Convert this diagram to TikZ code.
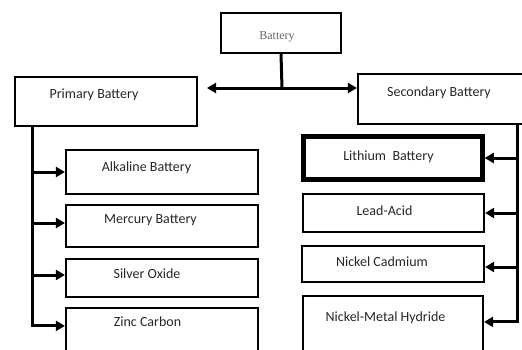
\documentclass[tikz,border=0pt]{standalone}
\usepackage{fontspec}
\setmainfont{Carlito}
\newfontfamily\batfont{Liberation Serif}
\usetikzlibrary{arrows.meta,calc}

\begin{document}
\begin{tikzpicture}[
    x=1pt, y=-1pt,
    box/.style={draw=black, line width=2.2pt, inner sep=0pt},
    lbl/.style={font=\fontsize{14}{16}\selectfont, text=black!85, inner sep=0pt},
    link/.style={line width=3pt, black},
    arr/.style={link, -{Triangle[length=9pt,width=10pt]}},
]
\useasboundingbox (0,0) rectangle (522,349);

% Top
\node[box, minimum width=120, minimum height=40] (bat) at (281,33) {};
\node[font=\batfont\fontsize{12}{14}\selectfont, text=black!60, inner sep=0pt] (bat-t) at (277,37) {Battery};

% Primary and secondary
\node[box, minimum width=182, minimum height=49] (prim) at (106,101.5) {};
\node[lbl] (prim-t) at (94,95) {Primary Battery};
\node[box, minimum width=182, minimum height=50] (sec) at (449,99) {};
\node[lbl] (sec-t) at (439,92.5) {Secondary Battery};

\coordinate (hub) at (282,88);
\coordinate (ltip) at (207,88);
\draw[link] (bat.south) -- (hub);
\draw[arr] (hub) -- (ltip);
\draw[arr] (hub) -- (sec.west |- hub);

% Primary types
\node[box, minimum width=192, minimum height=44] (alk) at (162,172) {};
\node[lbl] (alk-t) at (146.5,167.5) {Alkaline Battery};
\node[box, minimum width=192, minimum height=42] (mer) at (162,226) {};
\node[lbl] (mer-t) at (150.5,220) {Mercury Battery};
\node[box, minimum width=192, minimum height=38] (sil) at (162,278) {};
\node[lbl] (sil-t) at (147,274) {Silver Oxide};
\node[box, minimum width=192, minimum height=62] (zinc) at (162,339) {};
\node[lbl] (zinc-t) at (147.5,322) {Zinc Carbon};

\coordinate (mer-in) at ($(mer.west)+(0,-3)$);
\coordinate (sil-in) at ($(sil.west)+(0,-3)$);
\coordinate (zinc-in) at ($(zinc.north west)+(0,19)$);
\coordinate (lt) at (32,327);
\draw[link] (prim.south -| lt) -- (lt);
\draw[arr] (lt |- alk.west) -- (alk.west);
\draw[arr] (lt |- mer-in) -- (mer-in);
\draw[arr] (lt |- sil-in) -- (sil-in);
\draw[arr] (lt |- zinc-in) -- (zinc-in);

% Secondary types
\node[box, line width=4.5pt, minimum width=179, minimum height=43] (lith) at (393,158) {};
\node[lbl] (lith-t) at (388.5,156.5) {Lithium\ \ Battery};
\node[box, minimum width=181, minimum height=38] (lead) at (393.5,213) {};
\node[lbl] (lead-t) at (384.5,211) {Lead-Acid};
\node[box, minimum width=182, minimum height=36] (nicd) at (393,264) {};
\node[lbl] (nicd-t) at (382,262) {Nickel Cadmium};
\node[box, minimum width=180, minimum height=74] (nimh) at (393,333) {};
\node[lbl] (nimh-t) at (385.5,318) {Nickel-Metal Hydride};

\coordinate (nicd-in) at ($(nicd.east)+(0,3)$);
\coordinate (nimh-in) at ($(nimh.north east)+(0,27)$);
\coordinate (rt) at (517,323);
\draw[link] (sec.south -| rt) -- (rt);
\draw[arr] (rt |- lith.east) -- (lith.east);
\draw[arr] (rt |- lead.east) -- (lead.east);
\draw[arr] (rt |- nicd-in) -- (nicd-in);
\draw[arr] (rt |- nimh-in) -- (nimh-in);

\end{tikzpicture}
\end{document}
